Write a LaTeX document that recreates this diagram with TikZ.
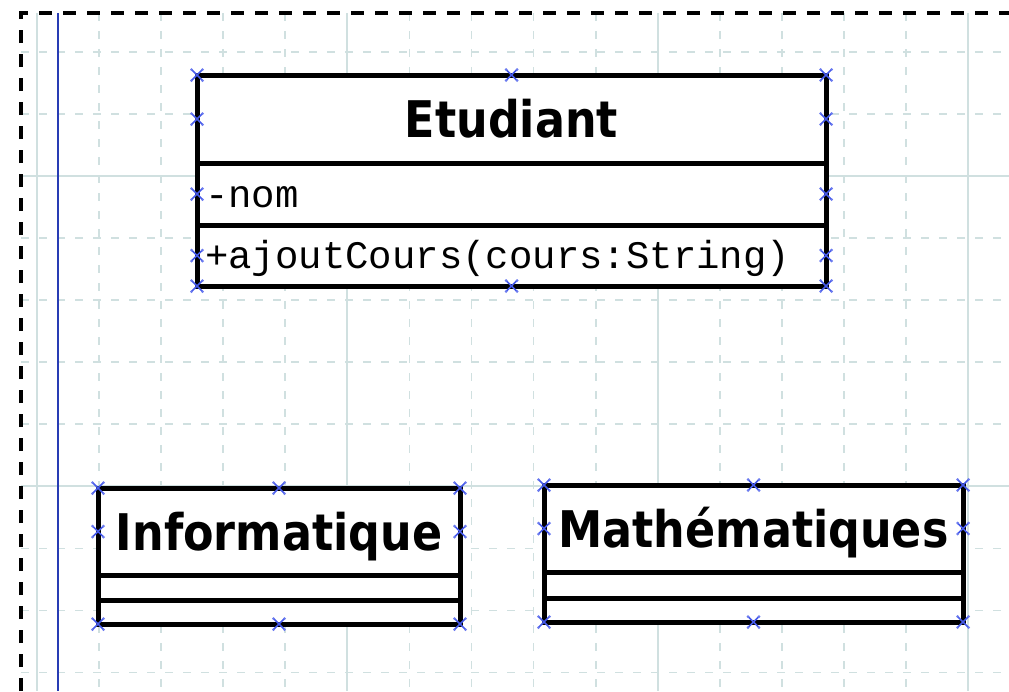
\documentclass[tikz,border=0pt]{standalone}
\usepackage{fontspec}
\usetikzlibrary{positioning}
\newfontfamily\classfont[FakeStretch=0.88]{DejaVu Sans}
\newfontfamily\memberfont{Liberation Mono}
\definecolor{gridcol}{RGB}{208,224,224}
\definecolor{marginblue}{RGB}{40,60,180}
\definecolor{handleblue}{RGB}{70,90,235}

\begin{document}
\begin{tikzpicture}[x=1pt, y=-1pt,
    minorgrid/.style={gridcol, line width=1.8pt, dash pattern=on 8pt off 10pt},
    majorgrid/.style={gridcol, line width=1.8pt},
    classhead/.style={draw, fill=white, line width=5pt, outer sep=0pt,
      font=\classfont\bfseries\fontsize{50.5}{60}\selectfont,
      text height=40pt, text depth=3pt},
    member/.style={draw, fill=white, line width=5pt, outer sep=0pt,
      font=\memberfont\fontsize{39}{44}\selectfont, align=left,
      inner xsep=8pt, text height=30pt, text depth=4pt},
    emptyrow/.style={draw, fill=white, line width=5pt, outer sep=0pt,
      inner sep=0pt},
    handle/.pic={
      \draw[handleblue, line width=1.6pt] (-5.5,-5.5) -- (5.5,5.5) (-5.5,5.5) -- (5.5,-5.5);
      \foreach \p in {(-5.5,-5.5),(5.5,5.5),(-5.5,5.5),(5.5,-5.5)}
        \fill[handleblue!80] \p circle (1.5pt);}]
  \useasboundingbox (0,0) rectangle (1009,691);

  % grid
  \foreach \i in {0,...,15}
    \draw[minorgrid] ({37+62.07*\i},13) -- ({37+62.07*\i},691);
  \foreach \j in {-2,...,8}
    \draw[minorgrid] (21,{176+62.07*\j}) -- (1009,{176+62.07*\j});
  \foreach \gx in {37,347.35,657.7,968.05}
    \draw[majorgrid] (\gx,13) -- (\gx,691);
  \foreach \gy in {176,486.35}
    \draw[majorgrid] (21,\gy) -- (1009,\gy);

  % margin and page border
  \draw[marginblue, line width=2.4pt] (58,13) -- (58,691);
  \draw[line width=3.6pt, dash pattern=on 13pt off 11pt] (21,691) -- (21,13) -- (1009,13);

  % classes
  \node[classhead, minimum width=629pt, minimum height=88pt] (etud) at (511.5,119) {Etudiant};
  \node[member, text width=613pt, minimum height=62pt, below=0pt of etud] (etudattr) {-nom};
  \node[member, text width=613pt, minimum height=61pt, below=0pt of etudattr] (etudops) {+ajoutCours(cours:String)};

  \node[classhead, minimum width=362pt, minimum height=87pt] (info) at (279,531.5) {Informatique};
  \node[emptyrow, minimum width=362pt, minimum height=25pt, below=0pt of info] (infoattr) {};
  \node[emptyrow, minimum width=362pt, minimum height=24pt, below=0pt of infoattr] (infoops) {};

  \node[classhead, minimum width=419pt, minimum height=87pt] (math) at (753.5,528.5) {Mathématiques};
  \node[emptyrow, minimum width=419pt, minimum height=26pt, below=0pt of math] (mathattr) {};
  \node[emptyrow, minimum width=419pt, minimum height=24pt, below=0pt of mathattr] (mathops) {};

  % selection handles
  \foreach \c in {etud, info, math}
    \foreach \a in {north west, north, north east, west, east}
      \pic at (\c.\a) {handle};
  \foreach \r in {etudattr, etudops}
    \foreach \a in {west, east}
      \pic at (\r.\a) {handle};
  \foreach \r in {etudops, infoops, mathops}
    \foreach \a in {south west, south, south east}
      \pic at (\r.\a) {handle};
\end{tikzpicture}
\end{document}
